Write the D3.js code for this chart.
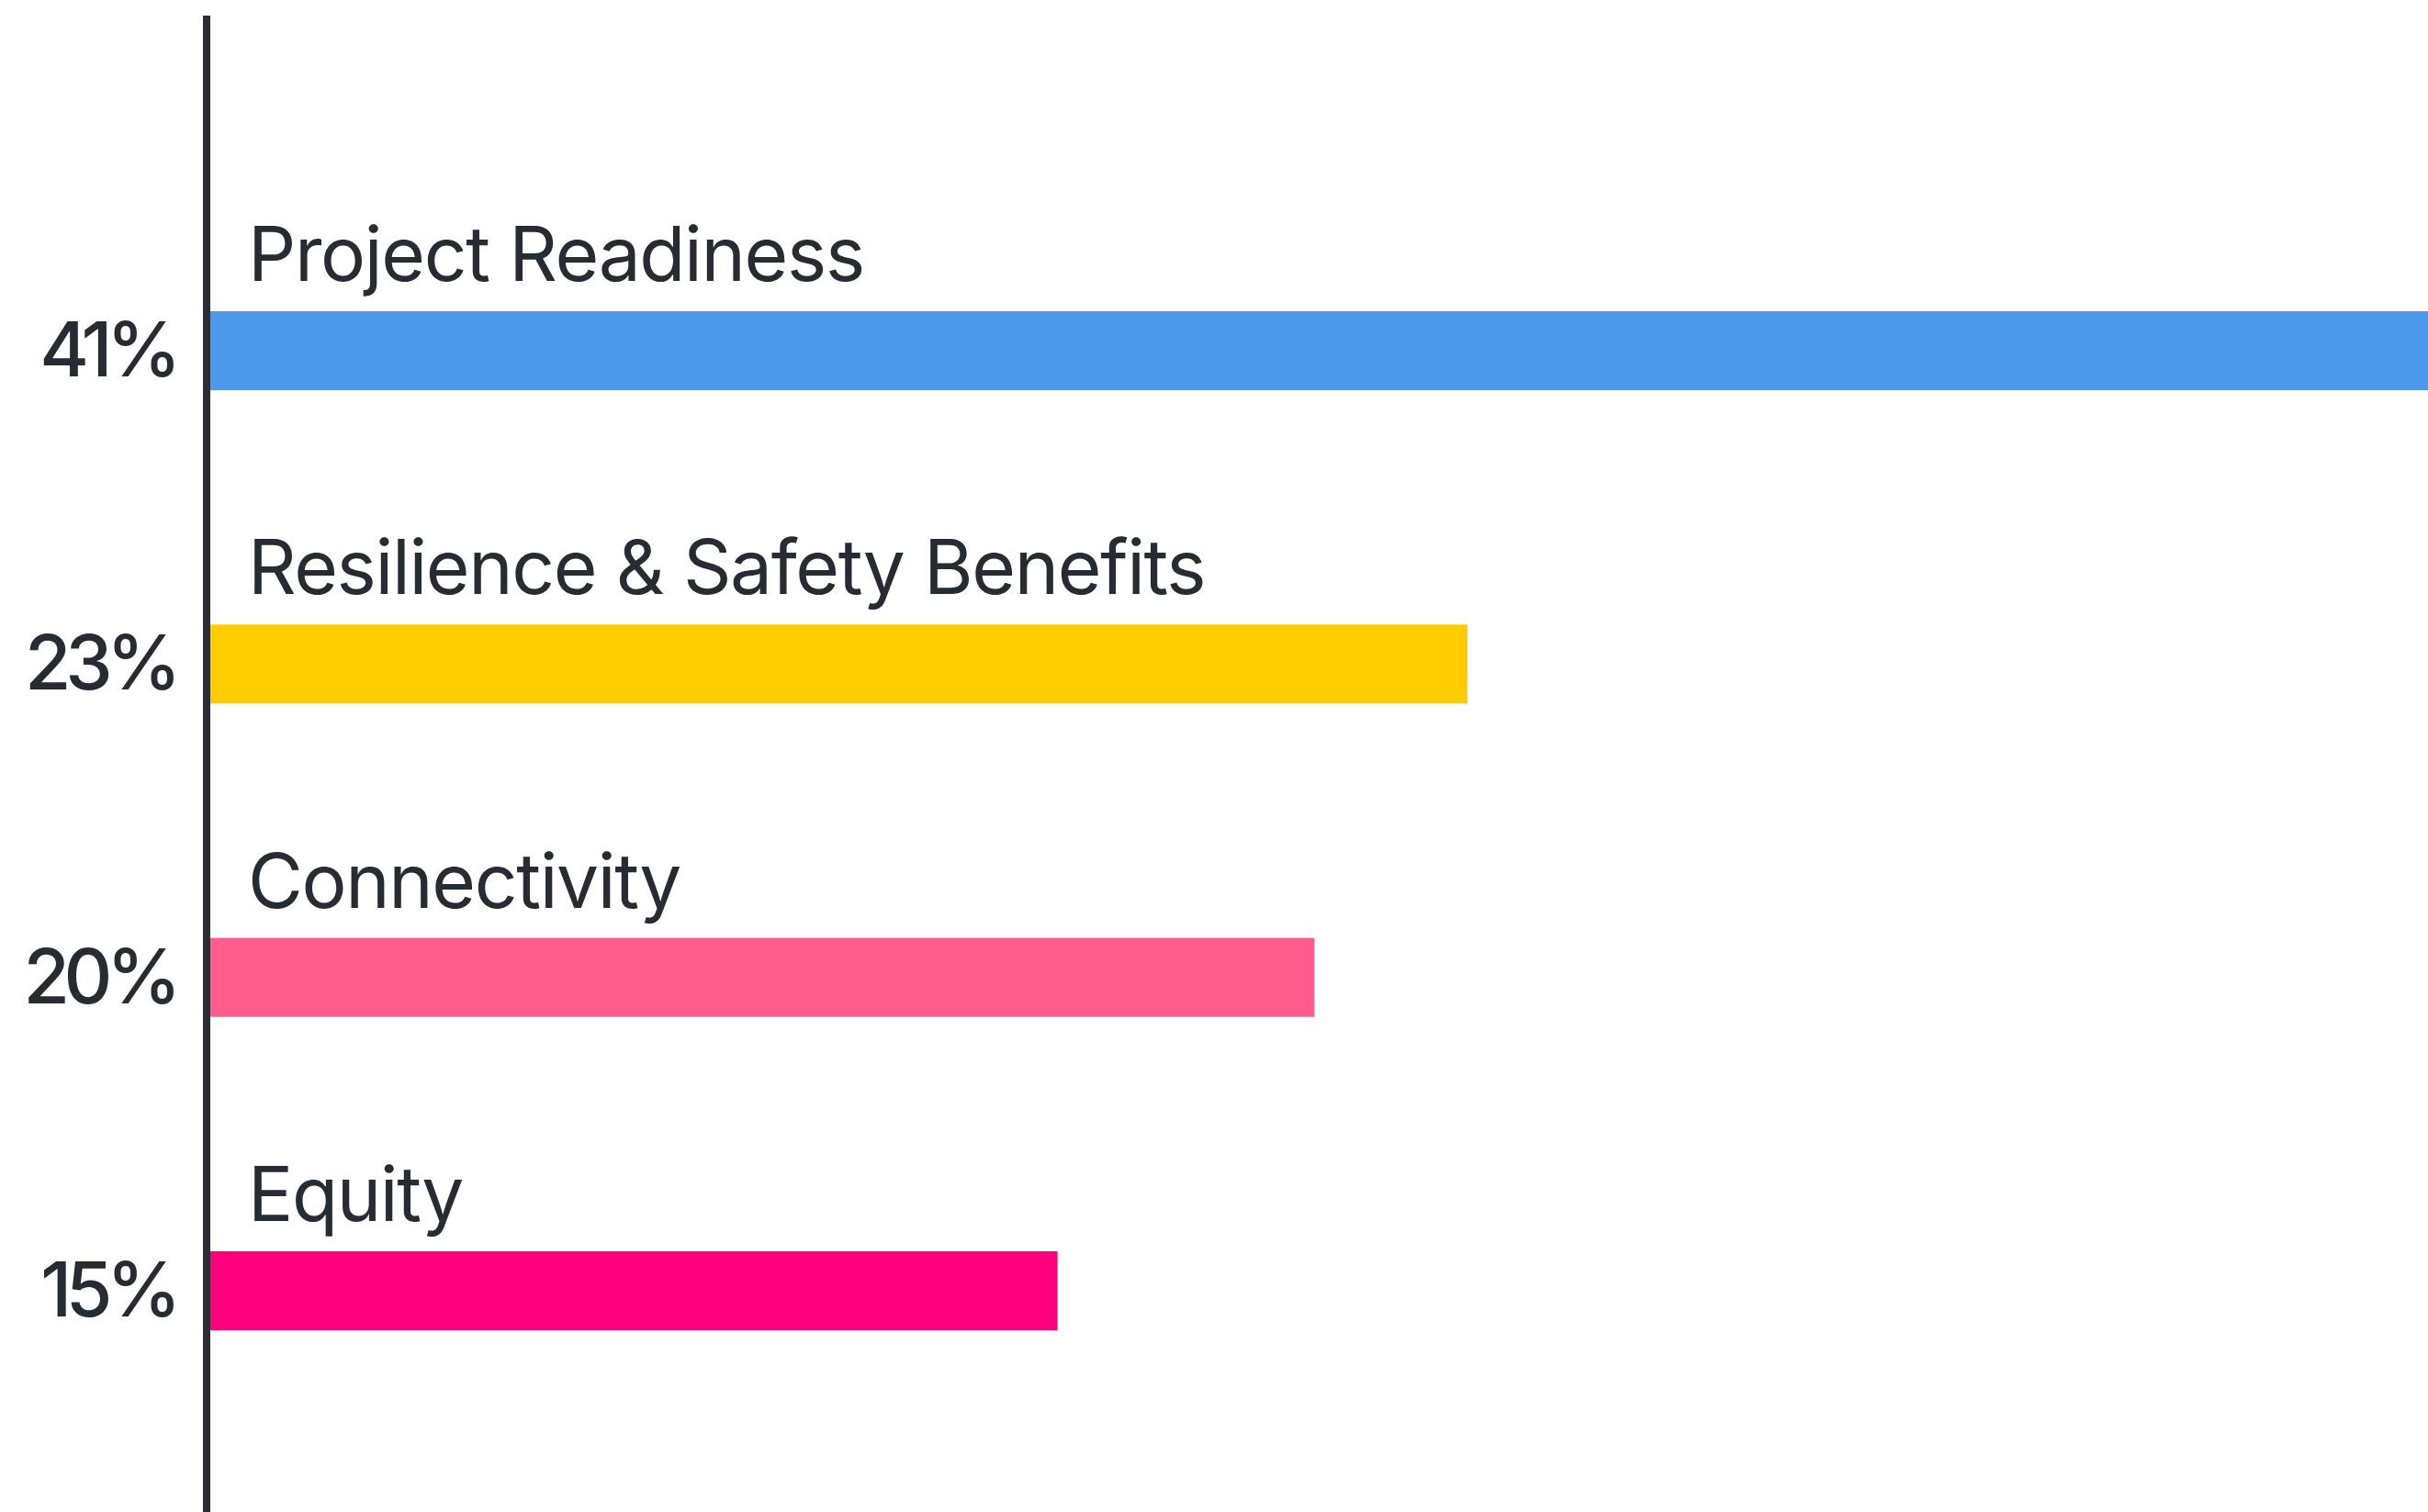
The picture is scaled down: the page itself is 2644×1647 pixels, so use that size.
<!DOCTYPE html>
<html>
<head>
<meta charset="utf-8">
<script src="https://cdn.jsdelivr.net/npm/d3@7"></script>
<style>
  html, body { margin: 0; padding: 0; background: #ffffff; }
  svg { display: block; }
</style>
</head>
<body>
<svg id="chart" width="2644" height="1647"></svg>
<script>
// ---- data ----
const categories = ["Project Readiness", "Resilience & Safety Benefits", "Connectivity", "Equity"];
const values = [41, 23, 20.2, 15.5];           // bar lengths
const tickLabels = ["41%", "23%", "20%", "15%"];
const colors = ["#4C98EB", "#FFCC00", "#FF5C8D", "#FF007E"];

// ---- layout ----
const W = 2644, H = 1647;
const axisX = 225;
const barStart = 229;
const svg = d3.select("#chart");

const x = d3.scaleLinear().domain([0, 23]).range([barStart, 1598]);
const y = d3.scaleBand().domain(categories).range([339, 1449]).paddingInner(0.748).paddingOuter(0);

const textColor = "#272b32";
const font = "Inter, 'Noto Sans', sans-serif";

// bars
svg.selectAll("rect.bar").data(categories).enter().append("rect")
  .attr("class", "bar")
  .attr("x", x(0))
  .attr("y", d => y(d))
  .attr("width", (d, i) => x(values[i]) - x(0))
  .attr("height", y.bandwidth())
  .attr("fill", (d, i) => colors[i]);

// category labels above bars
svg.selectAll("text.cat").data(categories).enter().append("text")
  .attr("class", "cat")
  .attr("x", 270)
  .attr("y", d => y(d) - 33)
  .attr("font-family", font)
  .attr("font-size", 82)
  .attr("font-weight", 400)
  .attr("letter-spacing", -1.4)
  .attr("fill", textColor)
  .text(d => d);

// y axis line + tick labels
const yAxis = d3.axisLeft(y).tickSize(0).tickPadding(34).tickFormat((d, i) => tickLabels[i]);
const gAxis = svg.append("g").attr("transform", `translate(${axisX},0)`).call(yAxis);
gAxis.select(".domain").remove();
gAxis.selectAll(".tick text")
  .attr("font-family", font)
  .attr("font-size", 82)
  .attr("font-weight", 500)
  .attr("letter-spacing", -6.5)
  .attr("fill", textColor)
  .attr("dy", "0.34em");

svg.append("line")
  .attr("x1", axisX).attr("x2", axisX)
  .attr("y1", 17).attr("y2", H)
  .attr("stroke", "#2a2e35")
  .attr("stroke-width", 8);
</script>
</body>
</html>
